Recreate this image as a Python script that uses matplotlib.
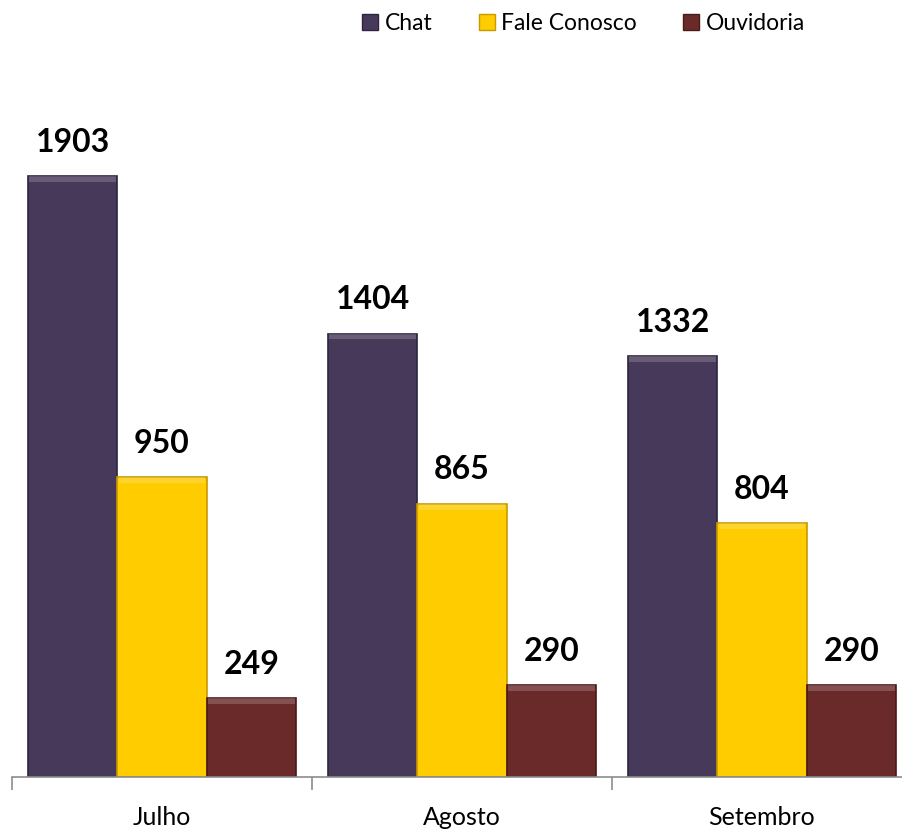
import matplotlib.pyplot as plt
import numpy as np
from matplotlib.patches import Patch

# dados
meses = ['Julho', 'Agosto', 'Setembro']
chat = [1903, 1404, 1332]
fale_conosco = [950, 865, 804]
ouvidoria = [249, 290, 290]

series = [('Chat', chat, '#47395A', '#2E2440'),
          ('Fale Conosco', fale_conosco, '#FFCC00', '#C99A00'),
          ('Ouvidoria', ouvidoria, '#6B2A2A', '#4A1A1A')]

plt.rcParams['font.family'] = ['Lato', 'DejaVu Sans']

fig = plt.figure(figsize=(9.02, 8.30), dpi=100)
ax = fig.add_axes([12/902, 53/830, 900/902, 679/830])

x = np.arange(len(meses))
w = 0.298
faixa = 18  # altura da faixa clara do topo
for i, (nome, vals, cor, borda) in enumerate(series):
    pos = x + (i - 1) * w
    bars = ax.bar(pos, vals, width=w, color=cor, edgecolor=borda, linewidth=1.2, zorder=2)
    # efeito chanfrado simples
    ax.bar(pos, [faixa] * len(vals), bottom=[v - faixa for v in vals], width=w * 0.97,
           color='white', alpha=0.18, linewidth=0, zorder=3)
    for b, v in zip(bars, vals):
        ax.annotate(str(v), (b.get_x() + b.get_width() / 2, v), xytext=(0, 14),
                    textcoords='offset points', ha='center', va='bottom',
                    fontsize=23, fontweight='bold', color='black')

ax.set_xlim(-0.5, 2.5)
ax.set_ylim(0, 2150)
ax.set_yticks([])
for s in ['top', 'right', 'left']:
    ax.spines[s].set_visible(False)
ax.spines['bottom'].set_color('#8C8C8C')
ax.spines['bottom'].set_linewidth(1.2)
ax.set_xticks(x)
ax.set_xticklabels(meses, fontsize=18)
ax.tick_params(axis='x', which='major', length=0, pad=21)
ax.set_xticks([-0.5, 0.5, 1.5, 2.5], minor=True)
ax.tick_params(axis='x', which='minor', length=9, width=1.2, color='#8C8C8C')

handles = [Patch(facecolor=c, edgecolor=b, label=n) for n, _, c, b in series]
fig.legend(handles=handles, loc='center', bbox_to_anchor=(0.647, 0.972), ncol=3,
           frameon=False, fontsize=16.5, handlelength=0.7, handleheight=0.7,
           handletextpad=0.3, columnspacing=2.0)

fig.savefig('out.png', dpi=100)
